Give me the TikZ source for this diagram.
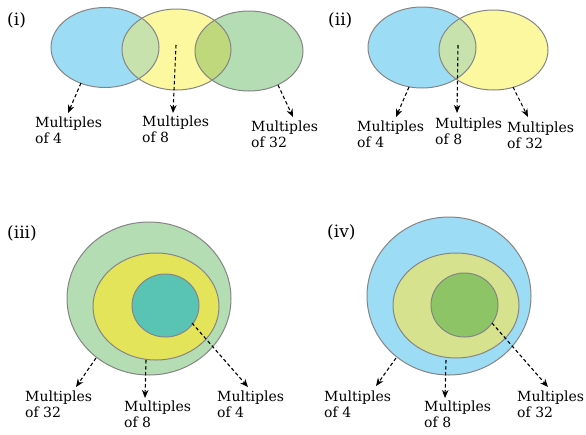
\documentclass[tikz,border=0pt]{standalone}
\usepackage{fontspec}
\setmainfont{DejaVu Serif}
\usetikzlibrary{arrows.meta}
\definecolor{cblue}{HTML}{9DDCF5}
\definecolor{cyel}{HTML}{FCF8A0}
\definecolor{cgreen}{HTML}{B4DDB4}
\definecolor{cby}{HTML}{C8E2AE}
\definecolor{cyg}{HTML}{C0D87C}
\definecolor{cyel3}{HTML}{E4E45A}
\definecolor{cteal}{HTML}{5AC4B4}
\definecolor{cyg4}{HTML}{D6E28E}
\definecolor{cgr4}{HTML}{8CC466}
\definecolor{edge}{HTML}{858585}
\tikzset{
  setline/.style={draw=edge, line width=1pt},
  ptr/.style={dashed, dash pattern=on 3.5pt off 2.5pt, line width=1.1pt, -{Stealth[length=8pt,width=6.5pt,inset=2.5pt]}},
  lbl/.style={anchor=north west, inner sep=0pt, align=left, font=\fontsize{14}{15.8}\selectfont},
  tag/.style={anchor=west, inner sep=0pt, font=\fontsize{17}{19}\selectfont}
}
\begin{document}
\begin{tikzpicture}[x=1pt,y=-1pt]
\useasboundingbox (0,0) rectangle (586,434);
% ---------- (i) ----------
\fill[cblue] (105,47.5) ellipse [x radius=54, y radius=40];
\fill[cyel] (176.5,49.5) ellipse [x radius=54.5, y radius=40.5];
\fill[cgreen] (249,51) ellipse [x radius=54, y radius=40];
\begin{scope}
  \clip (105,47.5) ellipse [x radius=54, y radius=40];
  \fill[cby] (176.5,49.5) ellipse [x radius=54.5, y radius=40.5];
\end{scope}
\begin{scope}
  \clip (176.5,49.5) ellipse [x radius=54.5, y radius=40.5];
  \fill[cyg] (249,51) ellipse [x radius=54, y radius=40];
\end{scope}
\draw[setline] (105,47.5) ellipse [x radius=54, y radius=40];
\draw[setline] (176.5,49.5) ellipse [x radius=54.5, y radius=40.5];
\draw[setline] (249,51) ellipse [x radius=54, y radius=40];
\node[tag] (t1) at (7,20) {(i)};
\node[lbl] (l1a) at (35,117) {Multiples\\of 4};
\node[lbl] (l1b) at (142,116) {Multiples\\of 8};
\node[lbl] (l1c) at (251,121) {Multiples\\of 32};
\coordinate (s1a) at (81,83);  \coordinate (e1a) at (68,113);
\coordinate (s1b) at (176,45); \coordinate (e1b) at (173,113);
\coordinate (s1c) at (278,85); \coordinate (e1c) at (293,117);
\draw[ptr] (s1a) -- (e1a);
\draw[ptr] (s1b) -- (e1b);
\draw[ptr] (s1c) -- (e1c);
% ---------- (ii) ----------
\fill[cblue] (422,47.5) ellipse [x radius=54, y radius=40.5];
\fill[cyel] (493.5,50) ellipse [x radius=54.5, y radius=40];
\begin{scope}
  \clip (422,47.5) ellipse [x radius=54, y radius=40.5];
  \fill[cby] (493.5,50) ellipse [x radius=54.5, y radius=40];
\end{scope}
\draw[setline] (422,47.5) ellipse [x radius=54, y radius=40.5];
\draw[setline] (493.5,50) ellipse [x radius=54.5, y radius=40];
\node[tag] (t2) at (328,20) {(ii)};
\node[lbl] (l2a) at (357,121) {Multiples\\of 4};
\node[lbl] (l2b) at (435,118) {Multiples\\of 8};
\node[lbl] (l2c) at (507,122) {Multiples\\of 32};
\coordinate (s2a) at (409,87);  \coordinate (e2a) at (396,117);
\coordinate (s2b) at (458,45);  \coordinate (e2b) at (457,113);
\coordinate (s2c) at (513,87);  \coordinate (e2c) at (528,117);
\draw[ptr] (s2a) -- (e2a);
\draw[ptr] (s2b) -- (e2b);
\draw[ptr] (s2c) -- (e2c);
% ---------- (iii) ----------
\draw[setline, fill=cgreen] (149,298.5) ellipse [x radius=82, y radius=76.5];
\draw[setline, fill=cyel3] (156,306.5) ellipse [x radius=63, y radius=53.5];
\draw[setline, fill=cteal] (165.5,305.5) ellipse [x radius=33.5, y radius=31.5];
\node[tag] (t3) at (7,233) {(iii)};
\node[lbl] (l3a) at (25,391) {Multiples\\of 32};
\node[lbl] (l3b) at (124,401) {Multiples\\of 8};
\node[lbl] (l3c) at (217,391) {Multiples\\of 4};
\coordinate (s3a) at (96,358);  \coordinate (e3a) at (76,387);
\coordinate (s3b) at (146,360); \coordinate (e3b) at (145,398);
\coordinate (s3c) at (192,323); \coordinate (e3c) at (248,387);
\draw[ptr] (s3a) -- (e3a);
\draw[ptr] (s3b) -- (e3b);
\draw[ptr] (s3c) -- (e3c);
% ---------- (iv) ----------
\draw[setline, fill=cblue] (449,296) ellipse [x radius=82, y radius=79];
\draw[setline, fill=cyg4] (456,305.5) ellipse [x radius=63, y radius=52.5];
\draw[setline, fill=cgr4] (464.5,305) ellipse [x radius=33.5, y radius=32];
\node[tag] (t4) at (327,232) {(iv)};
\node[lbl] (l4a) at (324,391) {Multiples\\of 4};
\node[lbl] (l4b) at (424,401) {Multiples\\of 8};
\node[lbl] (l4c) at (517,391) {Multiples\\of 32};
\coordinate (s4a) at (396,358); \coordinate (e4a) at (376,386);
\coordinate (s4b) at (446,360); \coordinate (e4b) at (445,398);
\coordinate (s4c) at (492,323); \coordinate (e4c) at (548,387);
\draw[ptr] (s4a) -- (e4a);
\draw[ptr] (s4b) -- (e4b);
\draw[ptr] (s4c) -- (e4c);
\end{tikzpicture}
\end{document}
